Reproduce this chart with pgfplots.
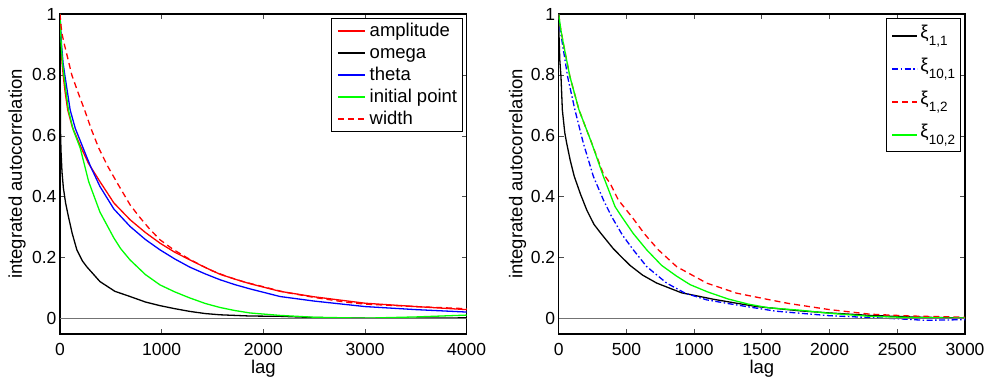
\documentclass[border=0pt]{standalone}
\usepackage{pgfplots}
\pgfplotsset{compat=1.18}
\usepackage{fontspec}
\setmainfont{Liberation Sans}
\newcommand\fs{\fontsize{18.5bp}{22bp}\selectfont}
\newcommand\fst{\fontsize{17.5bp}{21bp}\selectfont}
\newcommand\xis[1]{ξ\raisebox{-6.5bp}{\fontsize{13.5bp}{15bp}\selectfont #1}}
\pgfplotsset{
  myaxis/.style={
    scale only axis, height=320bp,
    ymin=-0.05, ymax=1,
    ytick={0,0.2,0.4,0.6,0.8,1},
    tick align=inside, tick pos=both,
    major tick length=5bp,
    every tick/.style={black!70, line width=0.8bp},
    axis line style={black, line width=1.1bp},
    ticklabel style={font=\fst},
    xticklabel style={yshift=-6bp},
    /pgf/number format/assume math mode=true,
    /pgf/number format/1000 sep={},
    scaled ticks=false,
    label style={font=\fs},
    ylabel={integrated autocorrelation},
    xlabel={lag},
    legend cell align=left,
    legend image code/.code={\draw[line width=1.8bp,#1] (0bp,0bp) -- (27bp,0bp);},
    every axis plot/.append style={line width=1.3bp},
  }
}
\begin{document}
\begin{tikzpicture}
\path[use as bounding box] (0bp,0bp) rectangle (988bp,380bp);
\begin{axis}[myaxis,
  at={(60bp,46bp)}, anchor=south west, width=406.7bp,
  xmin=0, xmax=4000, xtick={0,1000,2000,3000,4000},
  ylabel style={at={(axis description cs:-0.1057,0.5)}, anchor=center},
  xlabel style={at={(axis description cs:0.5,-0.11)}, anchor=center},
  legend style={at={(axis description cs:0.99,0.987)}, anchor=north east,
    draw=black, line width=1bp, inner xsep=5bp, inner ysep=3bp, font=\fs,
    row sep=3.5bp, column sep=4bp,
    nodes={inner sep=0pt, text height=14.5bp, text depth=4bp}},
]
\addplot[red] coordinates {(0,1) (5,0.95) (10,0.9) (20,0.84) (33,0.794) (50,0.745) (76,0.685) (120,0.63) (199,0.568) (280,0.51) (393,0.45) (530,0.38) (689,0.325) (840,0.283) (984,0.248) (1130,0.218) (1279,0.193) (1430,0.168) (1574,0.146) (1720,0.13) (1869,0.115) (2164,0.09) (2500,0.072) (3000,0.051) (3500,0.04) (4000,0.03)};
\addlegendentry{amplitude}
\addplot[black] coordinates {(0,1) (2,0.85) (4,0.7) (6,0.6) (10,0.55) (20,0.48) (33,0.43) (55,0.38) (83,0.335) (120,0.28) (166,0.226) (220,0.19) (265,0.17) (393,0.122) (540,0.09) (689,0.073) (840,0.055) (984,0.043) (1130,0.033) (1279,0.024) (1430,0.017) (1574,0.013) (1869,0.009) (2164,0.008) (2500,0.004) (3000,0.002) (3500,0.002) (4000,0.003)};
\addlegendentry{omega}
\addplot[blue] coordinates {(0,1) (7,0.95) (15,0.9) (30,0.84) (50,0.794) (100,0.685) (150,0.625) (216,0.57) (300,0.5) (393,0.434) (530,0.36) (689,0.303) (840,0.26) (984,0.226) (1130,0.196) (1279,0.169) (1430,0.147) (1574,0.128) (1720,0.112) (1869,0.098) (2164,0.073) (2500,0.058) (3000,0.04) (3500,0.03) (4000,0.022)};
\addlegendentry{theta}
\addplot[green] coordinates {(0,1) (6,0.95) (12,0.9) (25,0.84) (40,0.794) (83,0.685) (130,0.62) (199,0.56) (282,0.45) (393,0.35) (530,0.265) (597,0.23) (689,0.193) (840,0.145) (984,0.111) (1130,0.088) (1279,0.068) (1430,0.05) (1574,0.037) (1720,0.027) (1869,0.019) (2164,0.011) (2500,0.005) (3000,0.002) (3500,0.006) (4000,0.012)};
\addlegendentry{initial point}
\addplot[red, dash pattern=on 6bp off 4bp] coordinates {(0,1) (10,0.96) (23,0.93) (43,0.9) (80,0.85) (116,0.8) (180,0.74) (242,0.685) (310,0.62) (381,0.56) (470,0.5) (564,0.445) (689,0.374) (779,0.335) (880,0.295) (984,0.259) (1111,0.228) (1250,0.2) (1377,0.177) (1500,0.157) (1639,0.139) (1800,0.122) (2000,0.105) (2200,0.088) (2500,0.07) (2800,0.055) (3000,0.048) (3500,0.04) (4000,0.033)};
\addlegendentry{width}
\addplot[forget plot, black!55, line width=1.2bp] coordinates {(0,0) (4000,0)};
\end{axis}
\begin{axis}[myaxis,
  at={(558.7bp,46bp)}, anchor=south west, width=406.3bp,
  xmin=0, xmax=3000, xtick={0,500,1000,1500,2000,2500,3000},
  ylabel style={at={(axis description cs:-0.1014,0.5)}, anchor=center},
  xlabel style={at={(axis description cs:0.5,-0.11)}, anchor=center},
  legend image code/.code={\draw[line width=1.8bp,#1] (0bp,0bp) -- (25bp,0bp);},
  legend style={at={(axis description cs:0.989,0.987)}, anchor=north east,
    draw=black, line width=1bp, inner xsep=5bp, inner ysep=3bp, font=\fs,
    row sep=5bp, column sep=2.5bp,
    nodes={inner sep=0pt, text height=17bp, text depth=11bp}},
]
\addplot[black] coordinates {(0,1) (3,0.92) (8,0.85) (17,0.794) (27,0.685) (45,0.61) (59,0.576) (85,0.52) (115,0.467) (160,0.41) (207,0.357) (260,0.31) (310,0.281) (403,0.23) (470,0.2) (527,0.175) (620,0.143) (724,0.117) (908,0.085) (1000,0.077) (1142,0.064) (1300,0.052) (1462,0.04) (1782,0.026) (2000,0.019) (2300,0.011) (2600,0.006) (3000,0.002)};
\addlegendentry{\xis{1,1}}
\addplot[blue, dash pattern=on 6bp off 2.5bp on 1.5bp off 2.5bp] coordinates {(0,1) (10,0.95) (27,0.904) (66,0.794) (120,0.685) (182,0.576) (256,0.467) (330,0.39) (391,0.335) (470,0.275) (551,0.226) (650,0.171) (797,0.117) (933,0.084) (1093,0.062) (1250,0.05) (1388,0.04) (1600,0.025) (2000,0.01) (2300,0.004) (2500,0.0) (2700,-0.005) (3000,-0.003)};
\addlegendentry{\xis{10,1}}
\addplot[red, dash pattern=on 6bp off 4bp] coordinates {(0,1) (15,0.95) (34,0.904) (83,0.794) (150,0.685) (244,0.576) (330,0.475) (379,0.445) (440,0.39) (539,0.335) (640,0.275) (736,0.226) (871,0.171) (1093,0.117) (1314,0.084) (1560,0.062) (1700,0.05) (1850,0.04) (2000,0.03) (2300,0.015) (2600,0.009) (3000,0.005)};
\addlegendentry{\xis{1,2}}
\addplot[green] coordinates {(0,1) (15,0.95) (34,0.904) (83,0.794) (150,0.685) (244,0.576) (330,0.467) (416,0.368) (465,0.335) (550,0.28) (650,0.226) (760,0.175) (870,0.14) (970,0.112) (1100,0.088) (1250,0.065) (1400,0.048) (1550,0.036) (1782,0.028) (2000,0.018) (2300,0.008) (2600,0.004) (3000,0.002)};
\addlegendentry{\xis{10,2}}
\addplot[forget plot, black!55, line width=1.2bp] coordinates {(0,0) (3000,0)};
\end{axis}
\end{tikzpicture}
\end{document}
